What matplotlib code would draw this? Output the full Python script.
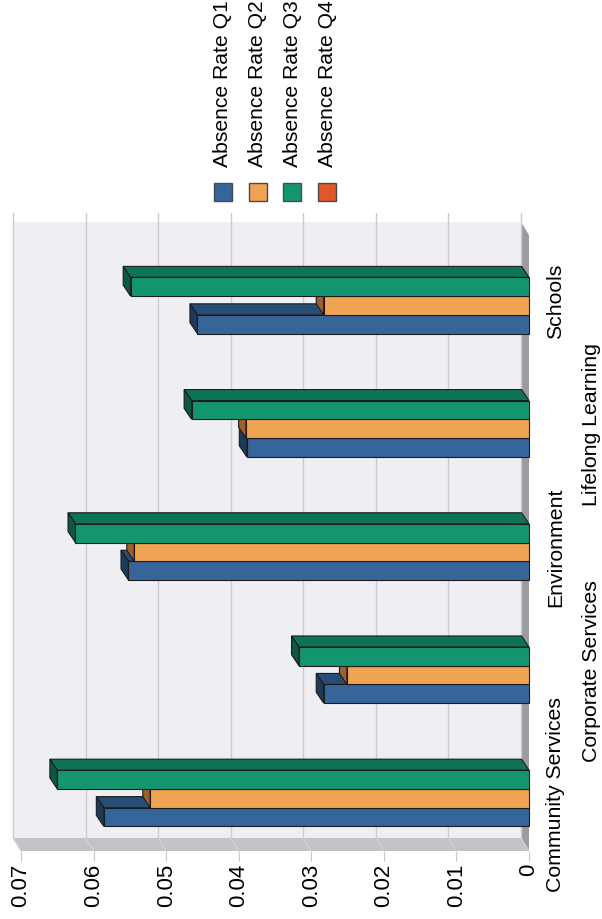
import matplotlib
matplotlib.use("Agg")
import matplotlib.pyplot as plt
import matplotlib.transforms as mtransforms
from matplotlib.patches import Polygon, Rectangle
import numpy as np

plt.rcParams['font.family'] = ['Liberation Sans', 'DejaVu Sans']

categories = ["Community Services", "Corporate Services", "Environment",
              "Lifelong Learning", "Schools"]
series_names = ["Absence Rate Q1", "Absence Rate Q2", "Absence Rate Q3", "Absence Rate Q4"]
q1 = [0.0586, 0.0283, 0.0552, 0.0389, 0.0457]
q2 = [0.0522, 0.0251, 0.0544, 0.0390, 0.0283]
q3 = [0.0650, 0.0317, 0.0625, 0.0465, 0.0549]
q4 = [None, None, None, None, None]
value_ticks = [0, 0.01, 0.02, 0.03, 0.04, 0.05, 0.06, 0.07]
tick_labels = ["0", "0.01", "0.02", "0.03", "0.04", "0.05", "0.06", "0.07"]

series = [q1, q2, q3, q4]
# front, side, end-cap shades per series
shades = [("#36659a", "#254d76", "#1c3b5b"),
          ("#f0a453", "#b97b3a", "#9b6128"),
          ("#139670", "#0f7359", "#0b5944"),
          ("#e0572a", "#a83f1d", "#833015")]

W, H = 602, 920
fig = plt.figure(figsize=(W / 100, H / 100), dpi=100)
ax = fig.add_axes([21 / W, 68 / H, 508 / W, 616 / H])
vmax = 0.07
ax.set_xlim(vmax, 0)
ax.set_ylim(-0.5, 4.5)

# pixel -> data unit helpers for the fake 3d depth
pv = vmax / 508
pc = 5 / 616
wall_dv, wall_dc = 8 * pv, 13 * pc
bar_dv, bar_dc = 7.4 * pv, 11 * pc

# back wall, side strips and gridlines
ax.add_patch(Rectangle((wall_dv, -0.5 + wall_dc), vmax, 5, facecolor="#efeff3",
                       edgecolor="none", clip_on=False, zorder=0))
ax.add_patch(Polygon([(vmax, -0.5), (0, -0.5), (wall_dv, -0.5 + wall_dc),
                      (vmax + wall_dv, -0.5 + wall_dc)],
                     facecolor="#c3c3c7", edgecolor="none", clip_on=False, zorder=0.5))
ax.add_patch(Polygon([(0, -0.5), (0, 4.5), (wall_dv, 4.5 + wall_dc), (wall_dv, -0.5 + wall_dc)],
                     facecolor="#9c9c9f", edgecolor="none", clip_on=False, zorder=0.5))
for t in value_ticks:
    ax.plot([t + wall_dv, t + wall_dv], [-0.5 + wall_dc, 4.5 + wall_dc + 9 * pc],
            color="#cacad8", lw=1, clip_on=False, zorder=0.6)
    ax.plot([t + wall_dv, t], [-0.5 + wall_dc, -0.5], color="#d2d2da", lw=0.8,
            clip_on=False, zorder=0.6)

h = 0.152
ypos = np.arange(len(categories))
edge = "#1c1c1c"
for i, vals in enumerate(series):
    front, side, cap = shades[i]
    off = (i - 1.5) * h + 0.004
    z = 2 + i
    for c, v in zip(ypos, vals):
        if v is None:
            continue
        top = c + off + h / 2
        bot = c + off - h / 2
        ax.add_patch(Polygon([(0, top), (v, top), (v + bar_dv, top + bar_dc), (bar_dv, top + bar_dc)],
                             facecolor=side, edgecolor=edge, lw=0.8, clip_on=False, zorder=z))
        ax.add_patch(Polygon([(v, bot), (v, top), (v + bar_dv, top + bar_dc), (v + bar_dv, bot + bar_dc)],
                             facecolor=cap, edgecolor=edge, lw=0.8, clip_on=False, zorder=z))
    vv = [np.nan if v is None else v for v in vals]
    ax.barh(ypos + off, vv, height=h, left=0, color=front, edgecolor=edge, lw=0.8,
            zorder=z + 0.5, clip_on=False)

for s in ax.spines.values():
    s.set_visible(False)
ax.set_xticks(value_ticks)
ax.set_xticklabels(tick_labels)
ax.tick_params(axis='x', direction='out', length=7.2, width=0.8, color="#c8c8cc",
               pad=1, labelrotation=90, labelsize=16)
ax.set_yticks([])

# staggered category labels on the right
blend = mtransforms.blended_transform_factory(ax.transAxes, ax.transData)
for k, name in enumerate(categories):
    xa = 1.0531 if k % 2 == 0 else 1.124
    ax.text(xa, k - 0.03, name, transform=blend, rotation=90, ha="center", va="center",
            fontsize=15.3)

# legend
for i, name in enumerate(series_names):
    cx = 223 + i * 34.7
    fig.add_artist(Rectangle(((cx - 9) / W, (H - 202) / H), 18 / W, 18 / H,
                             transform=fig.transFigure, facecolor=shades[i][0],
                             edgecolor="#4a4a4a", lw=1))
    fig.text(cx / W, (H - 167) / H, name, rotation=90, ha="center", va="bottom",
             fontsize=15.2)

fig.savefig("out.png", dpi=100)
